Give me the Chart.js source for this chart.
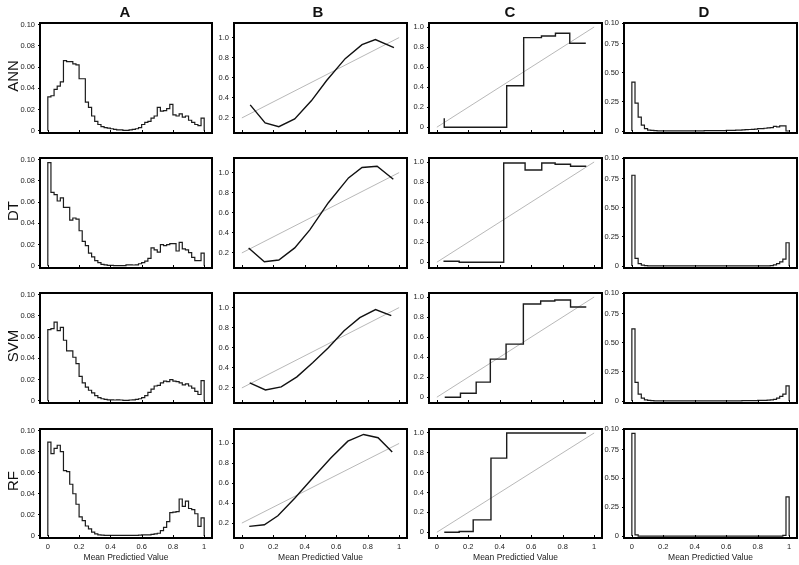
<!DOCTYPE html>
<html>
<head>
<meta charset="utf-8">
<script src="https://cdn.jsdelivr.net/npm/chart.js@4.4.0/dist/chart.umd.min.js"></script>
<style>
body { margin: 0; background: #fff; }
#wrap { position: relative; width: 799px; height: 565px; overflow: hidden; font-family: "Liberation Sans", Arial, sans-serif; color: #111; }
#wrap canvas { position: absolute; left: 0; top: 0; }
.hdr { position: absolute; font-weight: bold; font-size: 15px; transform: translate(-50%, -50%); }
.row { position: absolute; font-size: 15px; transform: translate(-50%, -50%) rotate(-90deg); }
</style>
</head>
<body>
<div id="wrap"></div>
<script>
// labels
const models = ['ANN', 'DT', 'SVM', 'RF'];
const columns = ['A', 'B', 'C', 'D'];
const xTitle = 'Mean Predictied Value';
const xTicks = [0, 0.2, 0.4, 0.6, 0.8, 1];
const xTickLabels = ['0', '0.2', '0.4', '0.6', '0.8', '1'];

// column A: histograms of predicted values (bin width 0.02)
const binWidth = 0.02;
const annHistA = [0.032,0.033,0.039,0.042,0.046,0.066,0.065,0.065,0.063,0.062,
  0.049,0.049,0.027,0.022,0.014,0.009,0.006,0.004,0.003,0.0025,
  0.002,0.0015,0.001,0.001,0.0005,0.0005,0.001,0.0015,0.002,0.003,
  0.006,0.008,0.009,0.012,0.014,0.022,0.0185,0.019,0.021,0.025,
  0.015,0.014,0.016,0.013,0.014,0.010,0.008,0.006,0.005,0.012];
const dtHistA = [0.097,0.069,0.067,0.061,0.064,0.055,0.055,0.043,0.045,0.044,
  0.033,0.023,0.019,0.012,0.0085,0.005,0.003,0.0015,0.001,0.0005,
  0.0005,0.0003,0.0003,0.0003,0.0003,0.001,0.001,0.0008,0.001,0.002,
  0.003,0.0045,0.007,0.017,0.015,0.013,0.020,0.019,0.020,0.021,
  0.021,0.014,0.022,0.016,0.015,0.0125,0.008,0.005,0.005,0.012];
const svmHistA = [0.067,0.068,0.074,0.066,0.069,0.057,0.047,0.047,0.041,0.035,
  0.023,0.017,0.013,0.010,0.0075,0.005,0.003,0.002,0.0015,0.001,
  0.001,0.0008,0.001,0.0008,0.0005,0.0005,0.0008,0.001,0.0015,0.002,
  0.003,0.005,0.008,0.011,0.014,0.0145,0.017,0.0185,0.018,0.020,
  0.0185,0.018,0.017,0.015,0.016,0.014,0.012,0.009,0.006,0.019];
const rfHistA = [0.089,0.078,0.083,0.086,0.080,0.062,0.061,0.049,0.040,0.030,
  0.018,0.0145,0.0094,0.0066,0.0035,0.002,0.001,0.0008,0.0005,0.0005,
  0.0005,0.0005,0.0005,0.0005,0.0005,0.0005,0.0005,0.0005,0.0005,0.0008,
  0.001,0.001,0.001,0.0015,0.002,0.0025,0.005,0.008,0.0135,0.022,
  0.0225,0.023,0.035,0.028,0.033,0.026,0.025,0.021,0.009,0.017];

// column B: calibration curves
const refLineB = [0.2, 1.0];
const annCalX = [0.053,0.148,0.235,0.336,0.443,0.539,0.657,0.764,0.849,0.967];
const annCalY = [0.33,0.15,0.113,0.19,0.373,0.573,0.79,0.93,0.98,0.90];
const dtCalX = [0.043,0.143,0.235,0.336,0.432,0.55,0.678,0.764,0.86,0.963];
const dtCalY = [0.25,0.113,0.13,0.25,0.43,0.70,0.947,1.05,1.063,0.933];
const svmCalX = [0.05,0.15,0.25,0.35,0.45,0.55,0.65,0.75,0.85,0.95];
const svmCalY = [0.25,0.18,0.21,0.31,0.45,0.60,0.77,0.90,0.98,0.92];
const rfCalX = [0.047,0.143,0.229,0.336,0.453,0.567,0.674,0.774,0.866,0.956];
const rfCalY = [0.167,0.183,0.273,0.45,0.657,0.857,1.023,1.09,1.057,0.913];

// column C: stepped reliability
const refLineC = [0, 1];
const annStepX = [0.047,0.444,0.552,0.665,0.754,0.845,0.947];
const annStepY = [0.09,0,0.414,0.894,0.91,0.937,0.838];
const dtStepX = [0.042,0.142,0.425,0.561,0.667,0.752,0.85,0.95];
const dtStepY = [0.01,0.01,0,0.99,0.92,0.99,0.977,0.957];
const svmStepX = [0.05,0.15,0.25,0.34,0.44,0.55,0.66,0.75,0.85,0.95];
const svmStepY = [0,0,0.04,0.15,0.38,0.53,0.93,0.96,0.97,0.90];
const rfStepX = [0.047,0.142,0.231,0.344,0.444,0.949];
const rfStepY = [0,0,0.007,0.125,0.747,1.0];

// column D: histograms
const annHistD = [0.42,0.24,0.12,0.05,0.02,0.008,0.005,0.003,0.002,0.002,
  0.002,0.002,0.002,0.002,0.002,0.002,0.002,0.002,0.002,0.002,
  0.002,0.002,0.002,0.003,0.003,0.003,0.003,0.003,0.004,0.004,
  0.005,0.005,0.006,0.007,0.008,0.010,0.012,0.013,0.015,0.017,
  0.020,0.021,0.024,0.027,0.030,0.040,0.036,0.045,0.045,0];
const dtHistD = [0.78,0.065,0.02,0.008,0.003,0.002,0.001,0.001,0.001,0.001,
  0.001,0.001,0.001,0.001,0.001,0.001,0.001,0.001,0.001,0.001,
  0.001,0.001,0.001,0.001,0.001,0.001,0.001,0.001,0.001,0.001,
  0.001,0.001,0.001,0.001,0.001,0.001,0.001,0.001,0.001,0.001,
  0.001,0.001,0.001,0.002,0.004,0.01,0.02,0.035,0.06,0.20];
const svmHistD = [0.62,0.16,0.06,0.025,0.01,0.005,0.003,0.002,0.002,0.002,
  0.002,0.002,0.002,0.002,0.002,0.002,0.002,0.002,0.002,0.002,
  0.002,0.002,0.002,0.002,0.002,0.002,0.002,0.002,0.002,0.002,
  0.002,0.002,0.002,0.002,0.002,0.003,0.003,0.003,0.004,0.004,
  0.005,0.005,0.006,0.008,0.01,0.015,0.025,0.04,0.06,0.13];
const rfHistD = [0.89,0.01,0,0,0,0,0,0,0,0,
  0,0,0,0,0,0,0,0,0,0,
  0,0,0,0,0,0,0,0,0,0,
  0,0,0,0,0,0,0,0,0,0,
  0,0,0,0,0,0,0,0,0.005,0.34];

// y axes per column
const yTicksA = [0, 0.02, 0.04, 0.06, 0.08, 0.10];
const yLabelsA = ['0', '0.02', '0.04', '0.06', '0.08', '0.10'];
const yTicksB = [0.2, 0.4, 0.6, 0.8, 1.0];
const yLabelsB = ['0.2', '0.4', '0.6', '0.8', '1.0'];
const yTicksC = [0, 0.2, 0.4, 0.6, 0.8, 1.0];
const yLabelsC = ['0', '0.2', '0.4', '0.6', '0.8', '1.0'];
const yTicksD = [0, 0.25, 0.5, 0.75, 0.928];
const yLabelsD = ['0', '0.25', '0.50', '0.75', '0.10'];

// layout (px)
const W = 799, H = 565;
const colLeft = [40, 234, 429, 624], colRight = [212, 407, 602, 797];
const rowTop = [23, 158, 293, 429], rowBottom = [133, 268, 403, 538];
const hdrX = [125, 318, 510, 704], hdrY = 11;
const yRanges = [[-0.002, 0.1014], [0.05, 1.145], [-0.058, 1.04], [-0.017, 0.928]];

Chart.defaults.font.family = '"Liberation Sans", Arial, sans-serif';

const wrap = document.getElementById('wrap');

const framePlugin = {
  id: 'frame',
  afterDraw(chart) {
    const { ctx, chartArea: a } = chart;
    const xs = chart.scales.x;
    ctx.save();
    ctx.strokeStyle = '#000';
    ctx.lineWidth = 1;
    xTicks.forEach(v => {
      const px = Math.round(xs.getPixelForValue(v)) + 0.5;
      ctx.beginPath();
      ctx.moveTo(px, a.bottom);
      ctx.lineTo(px, a.bottom - 3);
      ctx.stroke();
    });
    ctx.lineWidth = 2;
    ctx.strokeRect(a.left, a.top, a.right - a.left, a.bottom - a.top);
    ctx.restore();
  }
};

function histPoints(vals) {
  const pts = [{ x: 0, y: 0 }];
  vals.forEach((v, i) => pts.push({ x: i * binWidth, y: v }));
  pts.push({ x: 1, y: vals[vals.length - 1] }, { x: 1, y: 0 });
  return pts;
}
function xyPoints(xs, ys) {
  return xs.map((x, i) => ({ x: x, y: ys[i] }));
}
function refLine(ends) {
  return { data: [{ x: 0, y: ends[0] }, { x: 1, y: ends[1] }], borderColor: '#9a9a9a', borderWidth: 0.7 };
}

function panel(r, c, datasets, yTicks, yLabels) {
  const cv = document.createElement('canvas');
  cv.width = W; cv.height = H;
  wrap.appendChild(cv);
  const last = r === 3;
  const xH = last ? 27 : 0, yW = 30;
  new Chart(cv, {
    type: 'line',
    data: { datasets: datasets },
    options: {
      responsive: false,
      animation: false,
      events: [],
      layout: { padding: { left: colLeft[c] - yW, right: W - colRight[c], top: rowTop[r], bottom: H - rowBottom[r] - xH } },
      plugins: { legend: { display: false }, tooltip: { enabled: false } },
      elements: { point: { radius: 0 }, line: { tension: 0, fill: false } },
      scales: {
        x: {
          type: 'linear', min: -0.05, max: 1.05,
          afterFit: s => { s.height = xH; },
          afterBuildTicks: s => { s.ticks = xTicks.map(v => ({ value: v })); },
          grid: { display: false, drawTicks: false },
          border: { display: false },
          ticks: { display: last, autoSkip: false, maxRotation: 0, padding: 4, color: '#222', font: { size: 7.5 },
                   callback: (v, i) => xTickLabels[i] },
          title: { display: last, text: xTitle, color: '#222', font: { size: 8.5 }, padding: { top: 0, bottom: 2 } }
        },
        y: {
          type: 'linear', min: yRanges[c][0], max: yRanges[c][1],
          afterFit: s => { s.width = yW; },
          afterBuildTicks: s => { s.ticks = yTicks.map(v => ({ value: v })); },
          grid: { display: true, drawOnChartArea: false, drawTicks: true, tickLength: 2, color: '#000' },
          border: { display: false },
          ticks: { autoSkip: false, padding: 3, color: '#222', font: { size: 7.5 },
                   callback: (v, i) => yLabels[i] }
        }
      }
    },
    plugins: [framePlugin]
  });
}

const histA = [annHistA, dtHistA, svmHistA, rfHistA];
const calX = [annCalX, dtCalX, svmCalX, rfCalX], calY = [annCalY, dtCalY, svmCalY, rfCalY];
const stepX = [annStepX, dtStepX, svmStepX, rfStepX], stepY = [annStepY, dtStepY, svmStepY, rfStepY];
const histD = [annHistD, dtHistD, svmHistD, rfHistD];

for (let r = 0; r < 4; r++) {
  panel(r, 0, [{ data: histPoints(histA[r]), stepped: true, borderColor: '#1c1c1c', borderWidth: 1.2 }], yTicksA, yLabelsA);
  panel(r, 1, [{ data: xyPoints(calX[r], calY[r]), borderColor: '#111', borderWidth: 1.4 }, refLine(refLineB)], yTicksB, yLabelsB);
  panel(r, 2, [{ data: xyPoints(stepX[r], stepY[r]), stepped: 'after', borderColor: '#1c1c1c', borderWidth: 1.4 }, refLine(refLineC)], yTicksC, yLabelsC);
  panel(r, 3, [{ data: histPoints(histD[r]), stepped: true, borderColor: '#1c1c1c', borderWidth: 1.2 }], yTicksD, yLabelsD);
}

// headers and row labels
columns.forEach((t, i) => {
  const d = document.createElement('div');
  d.className = 'hdr'; d.textContent = t;
  d.style.left = hdrX[i] + 'px'; d.style.top = hdrY + 'px';
  wrap.appendChild(d);
});
models.forEach((t, i) => {
  const d = document.createElement('div');
  d.className = 'row'; d.textContent = t;
  d.style.left = '11.5px'; d.style.top = ((rowTop[i] + rowBottom[i]) / 2 - 2.5) + 'px';
  wrap.appendChild(d);
});
</script>
</body>
</html>
